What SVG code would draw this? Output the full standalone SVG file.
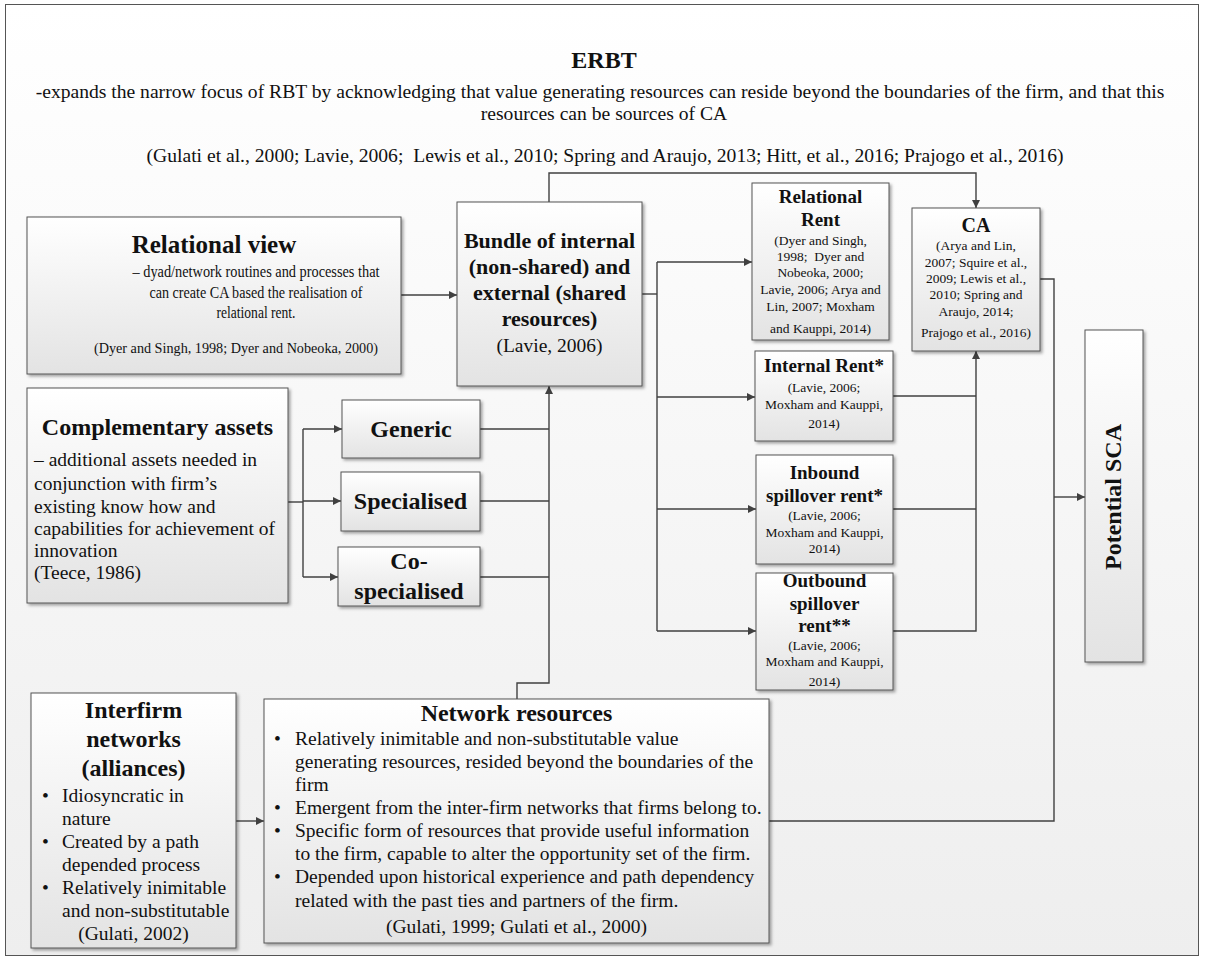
<svg xmlns="http://www.w3.org/2000/svg" width="1206" height="960" viewBox="0 0 1206 960" font-family="'Liberation Serif', 'DejaVu Serif', 'Times New Roman', serif">
  <defs>
    <linearGradient id="bg" x1="0" y1="0" x2="0" y2="1">
      <stop offset="0" stop-color="#ffffff"/>
      <stop offset="1" stop-color="#eeeeee"/>
    </linearGradient>
    <linearGradient id="boxfill" x1="0" y1="0" x2="0" y2="1">
      <stop offset="0" stop-color="#ffffff"/>
      <stop offset="1" stop-color="#e3e3e3"/>
    </linearGradient>
    <filter id="shadow" x="-10%" y="-10%" width="130%" height="130%">
      <feDropShadow dx="2" dy="2" stdDeviation="1.5" flood-color="#000" flood-opacity="0.35"/>
    </filter>
    <marker id="arrow" viewBox="0 0 10 10" refX="10" refY="5" markerWidth="8" markerHeight="8" markerUnits="userSpaceOnUse" orient="auto">
      <path d="M0,0 L10,5 L0,10 Z" fill="#404040"/>
    </marker>
  </defs>
  <style>
    text { font-family: "Liberation Serif", "DejaVu Serif", "Times New Roman", serif; fill: #111; }
    .box { fill: url(#boxfill); stroke: #555; stroke-width: 1; filter: url(#shadow); }
    .c { text-anchor: middle; }
    .b { font-weight: bold; }
    .conn path { fill: none; stroke: #404040; stroke-width: 1.4; }
    .arr { marker-end: url(#arrow); }
  </style>

  <!-- frame -->
  <rect x="5.5" y="4.5" width="1193" height="951" fill="url(#bg)" stroke="#555" stroke-width="1"/>

  <!-- heading -->
  <g id="heading">
    <text x="604" y="68" class="c b" font-size="24">ERBT</text>
    <text x="600" y="98" class="c" font-size="19.6">-expands the narrow focus of RBT by acknowledging that value generating resources can reside beyond the boundaries of the firm, and that this</text>
    <text x="604" y="120" class="c" font-size="19.6">resources can be sources of CA</text>
    <text x="605" y="162" class="c" font-size="19.6" xml:space="preserve">(Gulati et al., 2000; Lavie, 2006;  Lewis et al., 2010; Spring and Araujo, 2013; Hitt, et al., 2016; Prajogo et al., 2016)</text>
  </g>

  <!-- connectors -->
  <g id="connectors" class="conn">
    <path class="arr" d="M401,295 H457"/>
    <path class="arr" d="M549,202 V173 H976 V208"/>
    <path d="M642,294 H657"/>
    <path d="M657,262 V631"/>
    <path class="arr" d="M657,262 H752"/>
    <path class="arr" d="M657,397 H755"/>
    <path class="arr" d="M657,509 H756"/>
    <path class="arr" d="M657,631 H756"/>
    <path d="M893,396 H976"/>
    <path d="M893,509 H976"/>
    <path class="arr" d="M893,631 H976 V351"/>
    <path d="M1040,279 H1054 V821 H769"/>
    <path class="arr" d="M1054,497 H1085"/>
    <path d="M288,502 H303"/>
    <path d="M303,429 V577"/>
    <path class="arr" d="M303,429 H342"/>
    <path class="arr" d="M303,501 H341"/>
    <path class="arr" d="M303,577 H338"/>
    <path d="M480,429 H549"/>
    <path d="M480,501 H549"/>
    <path d="M480,577 H549"/>
    <path class="arr" d="M517,699 V683 H549 V386"/>
    <path class="arr" d="M236,821 H264"/>
  </g>

  <g id="relational-view">
    <rect class="box" x="27" y="217" width="374" height="157"/>
    <text x="214" y="253" class="c b" font-size="25">Relational view</text>
    <text x="256" y="277" class="c" font-size="16" textLength="247" lengthAdjust="spacingAndGlyphs">– dyad/network routines and processes that</text>
    <text x="256" y="298" class="c" font-size="16" textLength="213" lengthAdjust="spacingAndGlyphs">can create CA based the realisation of</text>
    <text x="256" y="318" class="c" font-size="16" textLength="79" lengthAdjust="spacingAndGlyphs">relational rent.</text>
    <text x="236" y="353" class="c" font-size="14.2">(Dyer and Singh, 1998; Dyer and Nobeoka, 2000)</text>
  </g>

  <g id="bundle">
    <rect class="box" x="457" y="202" width="185" height="184"/>
    <text x="549.5" y="248" class="c b" font-size="22">Bundle of internal</text>
    <text x="549.5" y="274" class="c b" font-size="22">(non-shared) and</text>
    <text x="549.5" y="300" class="c b" font-size="22">external (shared</text>
    <text x="549.5" y="326" class="c b" font-size="22">resources)</text>
    <text x="549.5" y="352" class="c" font-size="19.5">(Lavie, 2006)</text>
  </g>

  <g id="relational-rent">
    <rect class="box" x="752" y="183" width="137" height="157"/>
    <text x="820.5" y="203" class="c b" font-size="19">Relational</text>
    <text x="820.5" y="226" class="c b" font-size="19">Rent</text>
    <text x="820.5" y="245" class="c" font-size="13.5">(Dyer and Singh,</text>
    <text x="820.5" y="261" class="c" font-size="13.5" xml:space="preserve">1998;  Dyer and</text>
    <text x="820.5" y="277" class="c" font-size="13.5">Nobeoka, 2000;</text>
    <text x="820.5" y="294" class="c" font-size="13.5">Lavie, 2006; Arya and</text>
    <text x="820.5" y="311" class="c" font-size="13.5">Lin, 2007; Moxham</text>
    <text x="820.5" y="333" class="c" font-size="13.5">and Kauppi, 2014)</text>
  </g>

  <g id="internal-rent">
    <rect class="box" x="755" y="351" width="138" height="90"/>
    <text x="824" y="372" class="c b" font-size="19">Internal Rent*</text>
    <text x="824" y="392" class="c" font-size="13.5">(Lavie, 2006;</text>
    <text x="824" y="409" class="c" font-size="13.5">Moxham and Kauppi,</text>
    <text x="824" y="428" class="c" font-size="13.5">2014)</text>
  </g>

  <g id="inbound-rent">
    <rect class="box" x="756" y="455" width="137" height="109"/>
    <text x="824.5" y="479" class="c b" font-size="19">Inbound</text>
    <text x="824.5" y="502" class="c b" font-size="19">spillover rent*</text>
    <text x="824.5" y="520" class="c" font-size="13.5">(Lavie, 2006;</text>
    <text x="824.5" y="537" class="c" font-size="13.5">Moxham and Kauppi,</text>
    <text x="824.5" y="553" class="c" font-size="13.5">2014)</text>
  </g>

  <g id="outbound-rent">
    <rect class="box" x="756" y="573" width="137" height="117"/>
    <text x="824.5" y="587" class="c b" font-size="19">Outbound</text>
    <text x="824.5" y="610" class="c b" font-size="19">spillover</text>
    <text x="824.5" y="632" class="c b" font-size="19">rent**</text>
    <text x="824.5" y="650" class="c" font-size="13.5">(Lavie, 2006;</text>
    <text x="824.5" y="666" class="c" font-size="13.5">Moxham and Kauppi,</text>
    <text x="824.5" y="686" class="c" font-size="13.5">2014)</text>
  </g>

  <g id="ca">
    <rect class="box" x="912" y="208" width="128" height="143"/>
    <text x="976" y="232" class="c b" font-size="20">CA</text>
    <text x="976" y="250" class="c" font-size="13.5">(Arya and Lin,</text>
    <text x="976" y="267" class="c" font-size="13.5">2007; Squire et al.,</text>
    <text x="976" y="283" class="c" font-size="13.5">2009; Lewis et al.,</text>
    <text x="976" y="299" class="c" font-size="13.5">2010; Spring and</text>
    <text x="976" y="316" class="c" font-size="13.5">Araujo, 2014;</text>
    <text x="976" y="337" class="c" font-size="13.5">Prajogo et al., 2016)</text>
  </g>

  <g id="potential-sca">
    <rect class="box" x="1085" y="330" width="58" height="332"/>
    <text transform="translate(1121,497) rotate(-90)" class="c b" font-size="24">Potential SCA</text>
  </g>

  <g id="complementary-assets">
    <rect class="box" x="27" y="388" width="261" height="215"/>
    <text x="157.5" y="435" class="c b" font-size="24">Complementary assets</text>
    <text x="34" y="466" font-size="19.5">– additional assets needed in</text>
    <text x="34" y="490" font-size="19.5">conjunction with firm’s</text>
    <text x="34" y="513" font-size="19.5">existing know how and</text>
    <text x="34" y="535" font-size="19.5">capabilities for achievement of</text>
    <text x="34" y="557" font-size="19.5">innovation</text>
    <text x="34" y="579" font-size="19.5">(Teece, 1986)</text>
  </g>

  <g id="generic">
    <rect class="box" x="342" y="400" width="138" height="58"/>
    <text x="411" y="437" class="c b" font-size="24">Generic</text>
  </g>

  <g id="specialised">
    <rect class="box" x="341" y="472" width="139" height="59"/>
    <text x="410.5" y="509" class="c b" font-size="24">Specialised</text>
  </g>

  <g id="co-specialised">
    <rect class="box" x="338" y="547" width="142" height="59"/>
    <text x="409" y="569" class="c b" font-size="24">Co-</text>
    <text x="409" y="599" class="c b" font-size="24">specialised</text>
  </g>

  <g id="interfirm-networks">
    <rect class="box" x="31" y="693" width="205" height="255"/>
    <text x="133.5" y="718" class="c b" font-size="24">Interfirm</text>
    <text x="133.5" y="747" class="c b" font-size="24">networks</text>
    <text x="133.5" y="776" class="c b" font-size="24">(alliances)</text>
    <text x="42" y="802" font-size="19.5">•</text>
    <text x="62" y="802" font-size="19.5">Idiosyncratic in</text>
    <text x="62" y="825" font-size="19.5">nature</text>
    <text x="42" y="848" font-size="19.5">•</text>
    <text x="62" y="848" font-size="19.5">Created by a path</text>
    <text x="62" y="871" font-size="19.5">depended process</text>
    <text x="42" y="894" font-size="19.5">•</text>
    <text x="62" y="894" font-size="19.5">Relatively inimitable</text>
    <text x="62" y="917" font-size="19.5">and non-substitutable</text>
    <text x="133.5" y="940" class="c" font-size="19.5">(Gulati, 2002)</text>
  </g>

  <g id="network-resources">
    <rect class="box" x="264" y="699" width="505" height="244"/>
    <text x="516.5" y="721" class="c b" font-size="24">Network resources</text>
    <text x="274" y="745" font-size="19.5">•</text>
    <text x="295" y="745" font-size="19.5">Relatively inimitable and non-substitutable value</text>
    <text x="295" y="768" font-size="19.5">generating resources, resided beyond the boundaries of the</text>
    <text x="295" y="791" font-size="19.5">firm</text>
    <text x="274" y="814" font-size="19.5">•</text>
    <text x="295" y="814" font-size="19.5">Emergent from the inter-firm networks that firms belong to.</text>
    <text x="274" y="837" font-size="19.5">•</text>
    <text x="295" y="837" font-size="19.5">Specific form of resources that provide useful information</text>
    <text x="295" y="860" font-size="19.5">to the firm, capable to alter the opportunity set of the firm.</text>
    <text x="274" y="883" font-size="19.5">•</text>
    <text x="295" y="883" font-size="19.5">Depended upon historical experience and path dependency</text>
    <text x="295" y="907" font-size="19.5">related with the past ties and partners of the firm.</text>
    <text x="516.5" y="933" class="c" font-size="19.5">(Gulati, 1999; Gulati et al., 2000)</text>
  </g>
</svg>
